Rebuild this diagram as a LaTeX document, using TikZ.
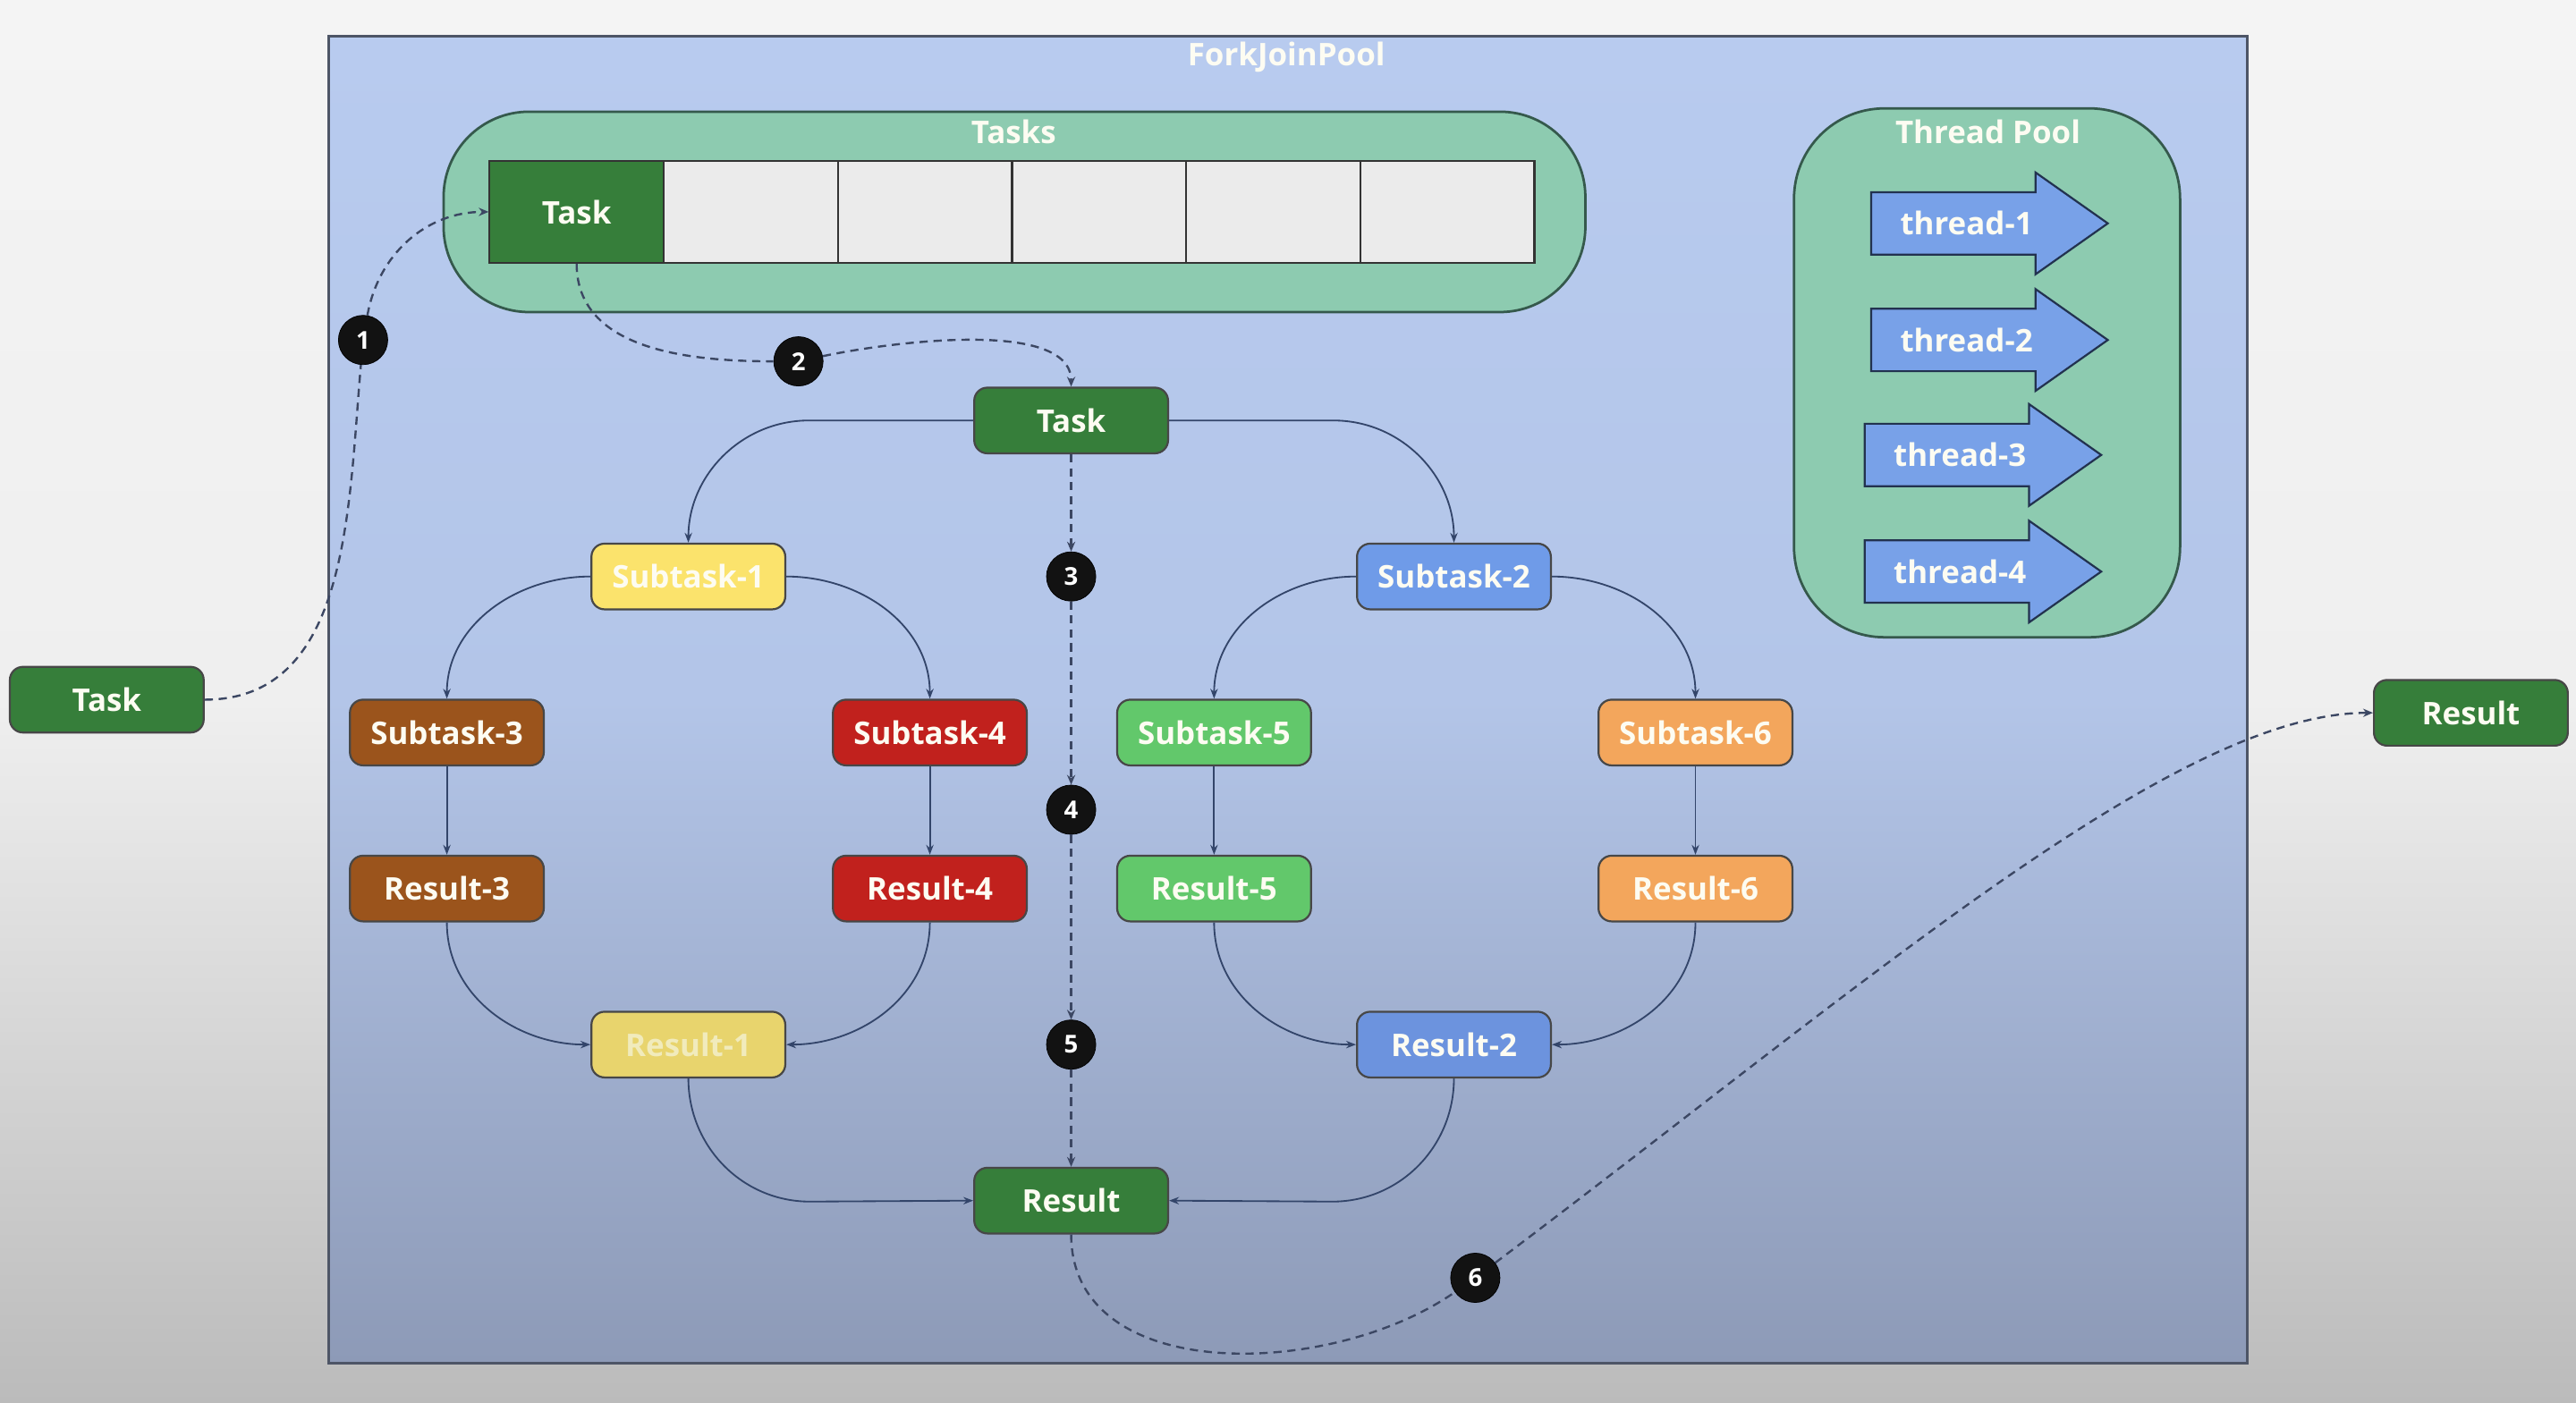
\documentclass[tikz,border=0pt]{standalone}
\usepackage{fontspec}
\setmainfont{Open Sans}
\usetikzlibrary{arrows.meta}

\definecolor{pagetop}{HTML}{F4F4F4}
\definecolor{pagemid}{HTML}{EFEFEF}
\definecolor{pagebot}{HTML}{BBBBBB}
\definecolor{pooltop}{HTML}{B8CBEF}
\definecolor{poolmid}{HTML}{B3C5E8}
\definecolor{poolbot}{HTML}{8D9AB7}
\definecolor{poolborder}{HTML}{4D5566}
\definecolor{mint}{HTML}{8DCBB0}
\definecolor{mintborder}{HTML}{35594C}
\definecolor{taskgreen}{HTML}{367E3A}
\definecolor{cellgray}{HTML}{EBEBEB}
\definecolor{threadblue}{HTML}{78A1E8}
\definecolor{threadborder}{HTML}{22324F}
\definecolor{styellow}{HTML}{FBE36C}
\definecolor{ryellow}{HTML}{E8D46D}
\definecolor{stblue}{HTML}{6F9BE8}
\definecolor{rblue}{HTML}{6C93DE}
\definecolor{brown}{HTML}{9B541C}
\definecolor{red}{HTML}{C1211D}
\definecolor{lgreen}{HTML}{62C86B}
\definecolor{orange}{HTML}{F3A65C}
\definecolor{linkcol}{HTML}{33456A}
\definecolor{dashcol}{HTML}{3C4763}
\definecolor{label}{HTML}{FDFCF2}
\definecolor{fadedlabel}{HTML}{F1EBBC}

\newcommand\threadarrow[4]{%
  \draw[threadshape] (#2,#3+19) -- (#2+100,#3+19) -- (#2+100,#3+31) -- (#2+144,#3)
    -- (#2+100,#3-31) -- (#2+100,#3-19) -- (#2,#3-19) -- cycle;
  \node[titletext] (#1) at (#2+58,#3) {#4};
}

\begin{document}
\begin{tikzpicture}[x=1pt,y=1pt,
  titletext/.style={text=label, inner sep=0pt, font=\fontsize{19}{22}\selectfont\bfseries},
  box/.style={draw=black!72, line width=1.2pt, rounded corners=8pt,
    minimum width=118pt, minimum height=40pt, inner sep=0pt, text=label,
    font=\fontsize{19}{22}\selectfont\bfseries},
  cell/.style={draw=black!80, line width=1.2pt, fill=cellgray,
    minimum width=106pt, minimum height=62pt, inner sep=0pt},
  container/.style={draw=mintborder, line width=1.5pt, fill=mint, inner sep=0pt},
  threadshape/.style={draw=threadborder, line width=1.2pt, fill=threadblue},
  num/.style={circle, fill=black!93, draw=black, minimum size=30pt, inner sep=0pt,
    text=white, font=\fontsize{15}{15}\selectfont\bfseries},
  link/.style={draw=linkcol, line width=1pt, -{Stealth[length=6pt,width=4.5pt]}},
  dashline/.style={draw=dashcol, line width=1.3pt, dash pattern=on 5pt off 3.5pt},
  flow/.style={dashline, -{Stealth[length=6pt,width=5pt]}}
]
\useasboundingbox (0,0) rectangle (1568,-854);

% page and pool frame
\shade[top color=pagetop, bottom color=pagebot, middle color=pagemid] (0,0) rectangle (1568,-854);
\path[draw=poolborder, line width=1.5pt, top color=pooltop, bottom color=poolbot, middle color=poolmid]
  (200,-22) rectangle (1368,-830);
\node[titletext] (pooltitle) at (783,-35) {ForkJoinPool};

% task queue
\node[container, rounded corners=52pt, minimum width=695pt, minimum height=122pt] (tasksbox) at (617.5,-129) {};
\node[titletext] (taskstitle) at (617,-80) {Tasks};
\node[cell, fill=taskgreen, text=label, font=\fontsize{19}{22}\selectfont\bfseries] (qtask) at (351,-129) {Task};
\node[cell] (q2) at (457,-129) {};
\node[cell] (q3) at (563,-129) {};
\node[cell] (q4) at (669,-129) {};
\node[cell] (q5) at (775,-129) {};
\node[cell] (q6) at (881,-129) {};

% thread pool
\node[container, rounded corners=55pt, minimum width=235pt, minimum height=322pt] (threadbox) at (1209.5,-227) {};
\node[titletext] (threadtitle) at (1210,-80) {Thread Pool};
\threadarrow{t1}{1139}{-136}{thread-1}
\threadarrow{t2}{1139}{-207}{thread-2}
\threadarrow{t3}{1135}{-277}{thread-3}
\threadarrow{t4}{1135}{-348}{thread-4}

% fork / join tree
\node[box, fill=taskgreen] (task) at (652,-256) {Task};
\node[box, fill=styellow] (st1) at (419,-351) {Subtask-1};
\node[box, fill=stblue] (st2) at (885,-351) {Subtask-2};
\node[box, fill=brown] (st3) at (272,-446) {Subtask-3};
\node[box, fill=red] (st4) at (566,-446) {Subtask-4};
\node[box, fill=lgreen] (st5) at (739,-446) {Subtask-5};
\node[box, fill=orange] (st6) at (1032,-446) {Subtask-6};
\node[box, fill=brown] (r3) at (272,-541) {Result-3};
\node[box, fill=red] (r4) at (566,-541) {Result-4};
\node[box, fill=lgreen] (r5) at (739,-541) {Result-5};
\node[box, fill=orange] (r6) at (1032,-541) {Result-6};
\node[box, fill=ryellow, text=fadedlabel] (r1) at (419,-636) {Result-1};
\node[box, fill=rblue] (r2) at (885,-636) {Result-2};
\node[box, fill=taskgreen] (res) at (652,-731) {Result};

% outside
\node[box, fill=taskgreen] (ltask) at (65,-426) {Task};
\node[box, fill=taskgreen] (rres) at (1504,-434) {Result};

% step markers
\node[num] (n1) at (221,-207) {1};
\node[num] (n2) at (486,-220) {2};
\node[num] (n3) at (652,-351) {3};
\node[num] (n4) at (652,-493) {4};
\node[num] (n5) at (652,-636) {5};
\node[num] (n6) at (898,-778) {6};

% fork edges
\draw[link] (task.west) -- ++(-100,0) to[out=180,in=90] (st1.north);
\draw[link] (task.east) -- ++(100,0) to[out=0,in=90] (st2.north);
\draw[link] (st1.west) to[out=180,in=90] (st3.north);
\draw[link] (st1.east) to[out=0,in=90] (st4.north);
\draw[link] (st2.west) to[out=180,in=90] (st5.north);
\draw[link] (st2.east) to[out=0,in=90] (st6.north);
\draw[link] (st3.south) -- (r3.north);
\draw[link] (st4.south) -- (r4.north);
\draw[link] (st5.south) -- (r5.north);
\draw[link] (st6.south) -- (r6.north);
% join edges
\draw[link] (r3.south) to[out=-90,in=180] (r1.west);
\draw[link] (r4.south) to[out=-90,in=0] (r1.east);
\draw[link] (r5.south) to[out=-90,in=180] (r2.west);
\draw[link] (r6.south) to[out=-90,in=0] (r2.east);
\draw[link] (r1.south) to[out=-90,in=180] ++(74,-75) -- (res.west);
\draw[link] (r2.south) to[out=-90,in=0] ++(-74,-75) -- (res.east);

% step flow
\draw[dashline] (ltask.east) to[out=0,in=-95] (n1);
\draw[flow] (n1) to[out=80,in=180] (qtask.west);
\draw[dashline] (qtask.south) to[out=-90,in=180] (n2);
\draw[flow] (n2) to[out=12,in=90,looseness=0.7] (task.north);
\draw[flow] (task.south) -- (n3);
\draw[flow] (n3) -- (n4);
\draw[flow] (n4) -- (n5);
\draw[flow] (n5) -- (res.north);
\draw[dashline] (res.south) to[out=-90,in=215] (n6);
\draw[flow] (n6) .. controls +(37:300) and +(180:120) .. (rres.west);
\end{tikzpicture}
\end{document}
